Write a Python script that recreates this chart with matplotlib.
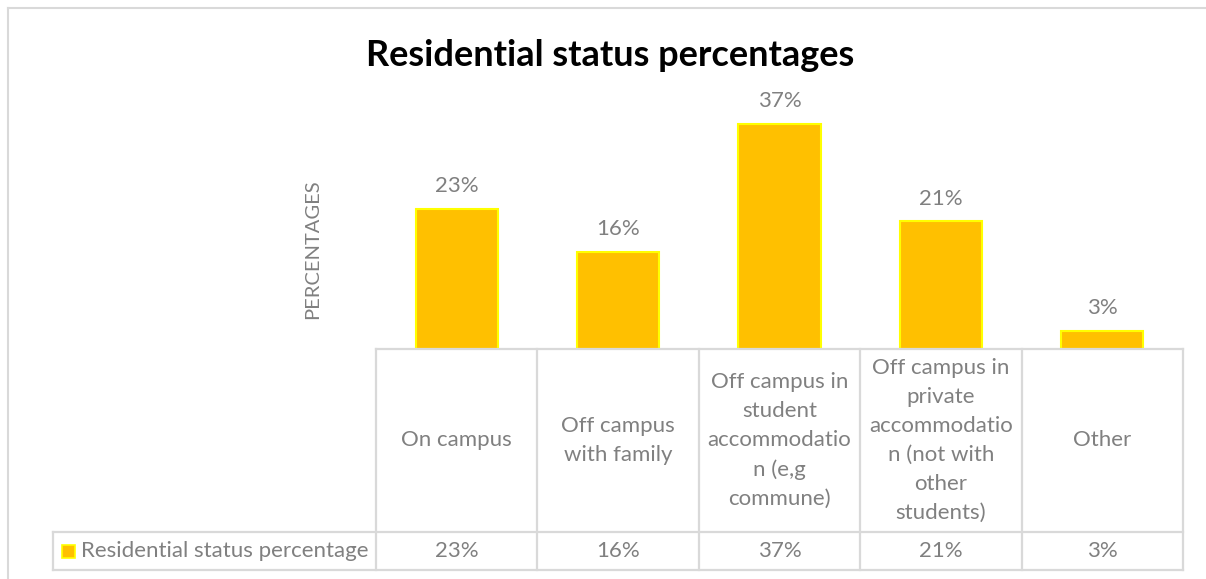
import matplotlib.pyplot as plt
import matplotlib.transforms as mtransforms
import numpy as np

plt.rcParams['font.family'] = ['Lato', 'DejaVu Sans']

# 数据
categories = ['On campus',
              'Off campus\nwith family',
              'Off campus in\nstudent\naccommodatio\nn (e,g\ncommune)',
              'Off campus in\nprivate\naccommodatio\nn (not with\nother\nstudents)',
              'Other']
values = [23, 16, 37, 21, 3]
series_name = 'Residential status percentage'
title = 'Residential status percentages'
y_label = 'PERCENTAGES'

grey_text = '#808080'
grid_grey = '#d9d9d9'
bar_fill = '#ffc000'
bar_edge = '#ffff00'
fs = 16

W, H = 1206, 579
fig = plt.figure(figsize=(W / 100, H / 100), dpi=100)


def fx(px):
    return px / W


def fy(py):
    return 1 - py / H


# 绘图区
ax = fig.add_axes([fx(376), fy(349), fx(1183) - fx(376), fy(106) - fy(349)])
x = np.arange(len(values))
bars = ax.bar(x, values, width=0.51, color=bar_fill, edgecolor=bar_edge, linewidth=1.5)
ax.set_xlim(-0.5, len(values) - 0.5)
ax.set_ylim(0, 40)
ax.axis('off')

# 数据标签
for b, v in zip(bars, values):
    ax.annotate(f'{v}%', (b.get_x() + b.get_width() / 2, v), xytext=(0, 16.5),
                textcoords='offset points', ha='center', va='center',
                fontsize=fs, color=grey_text)

# 标题和纵轴标签
fig.text(fx(610), fy(56), title, ha='center', va='center', fontsize=26,
         fontweight='bold', color='black')
fig.text(fx(313), fy(249), y_label, ha='center', va='center', rotation=90,
         fontsize=14.5, color=grey_text)

# 数据表
tr = mtransforms.blended_transform_factory(ax.transData, fig.transFigure)
top, mid, bot = fy(349), fy(532), fy(570)
lw = 1.6
edges = np.arange(len(values) + 1) - 0.5
ax.plot([edges[0], edges[-1]], [top, top], color=grid_grey, lw=lw, transform=tr, clip_on=False)
for e in edges:
    ax.plot([e, e], [top, bot], color=grid_grey, lw=lw, transform=tr, clip_on=False)
fig.add_artist(plt.Line2D([fx(53), fx(1183)], [mid, mid], color=grid_grey, lw=lw))
fig.add_artist(plt.Line2D([fx(53), fx(1183)], [bot, bot], color=grid_grey, lw=lw))
fig.add_artist(plt.Line2D([fx(53), fx(53)], [mid, bot], color=grid_grey, lw=lw))

for i, (c, v) in enumerate(zip(categories, values)):
    ax.text(i, (top + mid) / 2, c, transform=tr, ha='center', va='center',
            fontsize=fs, color=grey_text, linespacing=1.57, clip_on=False)
    ax.text(i, (mid + bot) / 2, f'{v}%', transform=tr, ha='center', va='center',
            fontsize=fs, color=grey_text, clip_on=False)

# 图例
fig.add_artist(plt.Rectangle((fx(62), fy(558)), fx(13), fy(545) - fy(558),
                             facecolor=bar_fill, edgecolor=bar_edge, lw=1.2))
fig.text(fx(81), (mid + bot) / 2, series_name, ha='left', va='center',
         fontsize=fs, color=grey_text)

# 图表外框
fig.add_artist(plt.Line2D([fx(7.5), fx(1206)], [fy(8), fy(8)], color=grid_grey, lw=1.5))
fig.add_artist(plt.Line2D([fx(7.5), fx(7.5)], [fy(8), 0], color=grid_grey, lw=1.5))

fig.savefig('out.png', dpi=100)
